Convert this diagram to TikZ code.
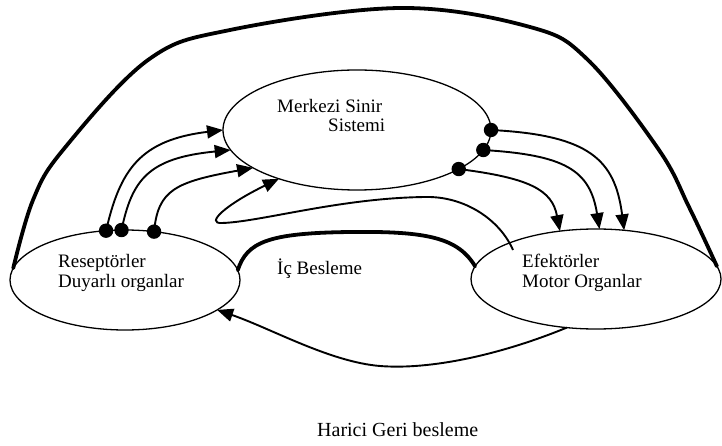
\documentclass[tikz,border=0pt]{standalone}
\usepackage{fontspec}
\setmainfont{Liberation Serif}
\usetikzlibrary{arrows.meta,shapes.geometric,calc}
\begin{document}
\begin{tikzpicture}[x=1pt,y=-1pt,
  organ/.style={draw, ellipse, line width=1.3pt, inner sep=0pt, outer sep=0pt},
  txt/.style={anchor=base west, inner sep=0pt, font=\fontsize{19}{22}\selectfont},
  nerve/.style={line width=1.9pt},
  feed/.style={line width=3.8pt, line cap=round},
  sig/.style={-{Triangle[length=16pt,width=13pt]}},
  synapse/.style={fill=black}
]
\useasboundingbox (0,0) rectangle (722,446);

% organs
\node[organ, minimum width=268pt, minimum height=120pt] (cns) at (357,130) {};
\node[organ, minimum width=230pt, minimum height=100pt] (rec) at (125,280) {};
\node[organ, minimum width=250pt, minimum height=100pt] (eff) at (596,279) {};

% labels
\node[txt] (cns1) at (277,113) {Merkezi Sinir};
\node[txt] (cns2) at (328,132) {Sistemi};
\node[txt] (rec1) at (58,267) {Reseptörler};
\node[txt] (rec2) at (58,287) {Duyarlı organlar};
\node[txt] (eff1) at (522,267) {Efektörler};
\node[txt] (eff2) at (522,287) {Motor Organlar};
\node[txt] (ic) at (277,274) {İç Besleme};
\node[txt, font=\fontsize{20}{24}\selectfont] (ext) at (317,436) {Harici Geri besleme};

% outer (external) feedback loop
\draw[feed] plot[smooth, tension=0.6] coordinates
  {(rec.174) (33,200) (63,150) (148,60) (230,30) (400,8) (530,27) (588,60) (659,150) (689,207) (eff.6)};

% internal feedback
\draw[feed] (rec.5) .. controls (247,242) and (268,233) .. (350,232)
  .. controls (428,231) and (458,238) .. (eff.174.6);

% afferent pathways: receptors -> CNS
\draw[nerve, sig] (rec.111.8) .. controls (120,170) and (140,140) .. (cns.180);
\draw[nerve, sig] (rec.94.6) .. controls (132,180) and (148,158) .. (cns.189.1);
\draw[nerve, sig] (rec.59.2) .. controls (158,190) and (175,182) .. (cns.200.5);
\fill[synapse] (rec.111.8) circle[radius=7.2];
\fill[synapse] (rec.94.6) circle[radius=7.2];
\fill[synapse] (rec.59.2) circle[radius=7.2];

% efferent pathways: CNS -> effectors
\draw[nerve, sig] (cns.0) .. controls (590,135) and (615,160) .. (eff.60.4);
\draw[nerve, sig] (cns.351) .. controls (565,155) and (590,170) .. (eff.86.6);
\draw[nerve, sig] (cns.339) .. controls (530,178) and (552,190) .. (eff.127.4);
\fill[synapse] (cns.0) circle[radius=7.2];
\fill[synapse] (cns.351) circle[radius=7.2];
\fill[synapse] (cns.339) circle[radius=7.2];

% effector loop back to the CNS
\coordinate (loopstart) at ($(eff.center)+(-83,-29)$);
\draw[nerve, sig] (loopstart) .. controls (500,220) and (465,196) .. (425,197)
  .. controls (340,198) and (260,222) .. (222,223)
  .. controls (205,224) and (225,205) .. (cns.212.1);

% external return to receptors
\draw[nerve, sig] (eff.239.4) .. controls (500,355) and (430,370) .. (380,366)
  .. controls (330,362) and (270,328) .. (rec.342);
\end{tikzpicture}
\end{document}
